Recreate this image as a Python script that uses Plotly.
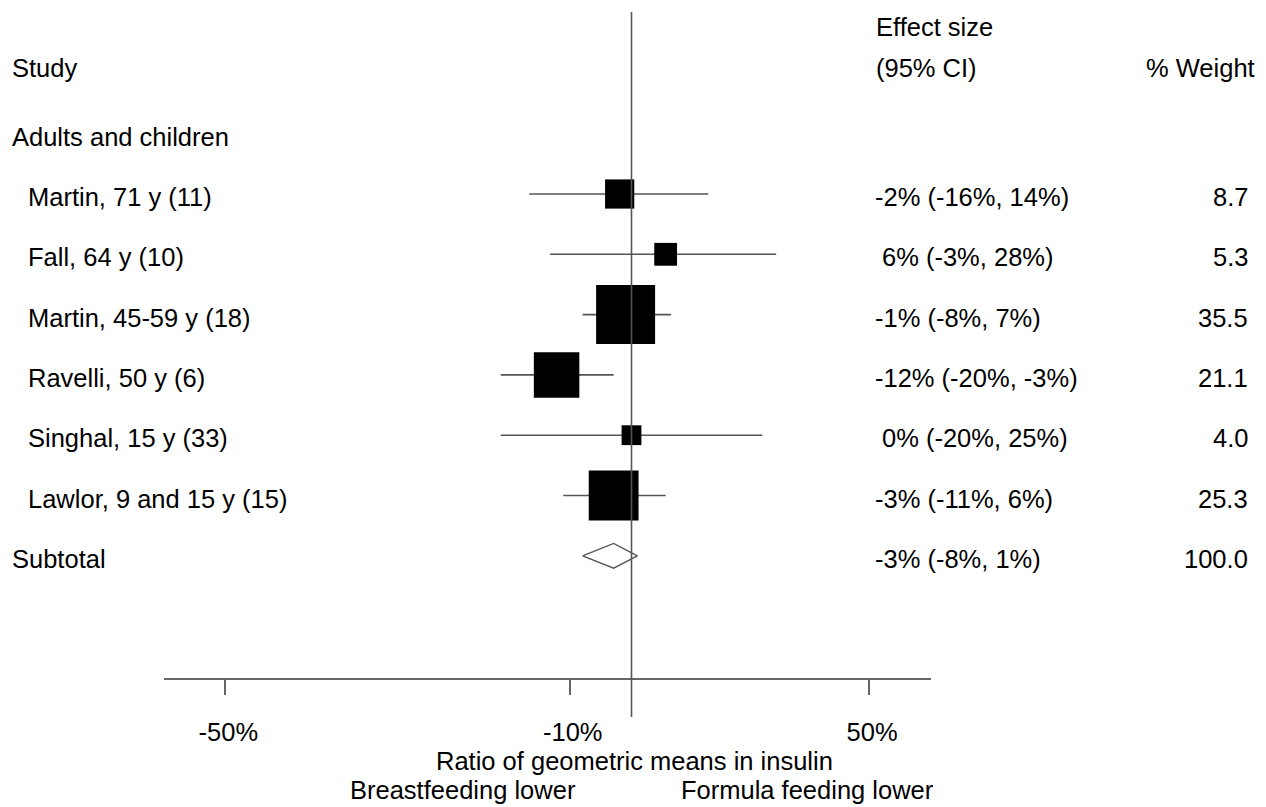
import numpy as np
import plotly.graph_objects as go

# ---------------- data ----------------
studies = ["Martin, 71 y (11)", "Fall, 64 y (10)", "Martin, 45-59 y (18)",
           "Ravelli, 50 y (6)", "Singhal, 15 y (33)", "Lawlor, 9 and 15 y (15)"]
est_pct = [-2, 6, -1, -12, 0, -3]
lo_pct = [-16, -13, -8, -20, -20, -11]
hi_pct = [14, 28, 7, -3, 25, 6]
weights = [8.7, 5.3, 35.5, 21.1, 4.0, 25.3]
effect_text = ["-2% (-16%, 14%)", "6% (-3%, 28%)", "-1% (-8%, 7%)",
               "-12% (-20%, -3%)", "0% (-20%, 25%)", "-3% (-11%, 6%)"]
weight_text = ["8.7", "5.3", "35.5", "21.1", "4.0", "25.3"]

subtotal_label = "Subtotal"
subtotal_est_pct = -3
subtotal_lo_pct = -8
subtotal_hi_pct = 1
subtotal_text = "-3% (-8%, 1%)"
subtotal_weight_text = "100.0"

tick_pct = [-50, -10, 50]
tick_labels = ["-50%", "-10%", "50%"]

# ---------------- layout constants ----------------
FONT = "Liberation Sans, Arial, Helvetica, sans-serif"
FS = 25.5
W, H = 1266, 807
L, R = 164, 931          # plot area horizontal pixels
T, B = 12, 678           # plot area vertical pixels
PX_PER_LN = 586.0
ZERO_PX = 631.5
ROW0_PX, ROW_STEP = 194.0, 60.3


def ratio(p):
    return 1 + np.asarray(p, dtype=float) / 100.0


def px_to_paper_x(px):
    return (px - L) / (R - L)


def px_to_paper_y(py):
    return (B - py) / (B - T)


x_lo_ln = (L - ZERO_PX) / PX_PER_LN
x_hi_ln = (R - ZERO_PX) / PX_PER_LN
x_range = [x_lo_ln / np.log(10), x_hi_ln / np.log(10)]
y_range = [(B - ROW0_PX) / ROW_STEP, (T - ROW0_PX) / ROW_STEP]

rows = list(range(len(studies)))
sub_row = len(studies)

fig = go.Figure()

# confidence interval lines
ci_x, ci_y = [], []
for r, lo, hi in zip(rows, ratio(lo_pct), ratio(hi_pct)):
    ci_x += [lo, hi, None]
    ci_y += [r, r, None]
fig.add_trace(go.Scatter(x=ci_x, y=ci_y, mode="lines",
                         line=dict(color="#555555", width=1.6),
                         hoverinfo="skip", showlegend=False))

# weighted squares
fig.add_trace(go.Scatter(x=ratio(est_pct), y=rows, mode="markers",
                         marker=dict(symbol="square", color="black", opacity=1,
                                     size=[9.9 * np.sqrt(w) for w in weights],
                                     line=dict(width=0)),
                         cliponaxis=False, showlegend=False))

# subtotal diamond
dh = 0.205
dx = list(ratio([subtotal_lo_pct, subtotal_est_pct, subtotal_hi_pct, subtotal_est_pct, subtotal_lo_pct]))
dy = [sub_row, sub_row - dh, sub_row, sub_row + dh, sub_row]
fig.add_trace(go.Scatter(x=dx, y=dy, mode="lines",
                         line=dict(color="#555555", width=1.4),
                         showlegend=False, hoverinfo="skip"))

# null line (ratio = 1)
fig.add_shape(type="line", xref="x", yref="paper", x0=1, x1=1,
              y0=px_to_paper_y(717), y1=1,
              line=dict(color="#555555", width=1.6))

ann = []


def add_text(text, xpx, row=None, ypx=None, anchor="left", xshift=0):
    d = dict(text=text, xref="paper", x=px_to_paper_x(xpx), xanchor=anchor,
             showarrow=False, yanchor="middle", xshift=xshift,
             font=dict(family=FONT, size=FS, color="black"))
    if row is not None:
        d.update(yref="y", y=row)
    else:
        d.update(yref="paper", y=px_to_paper_y(ypx))
    ann.append(d)


# headers
add_text("Study", 10, row=-2.09)
add_text("Effect size", 874, row=-2.77)
add_text("(95% CI)", 874, row=-2.09)
add_text("% Weight", 1257, row=-2.09, anchor="right")
add_text("Adults and children", 10, row=-0.95)

for r, s, e, wt in zip(rows, studies, effect_text, weight_text):
    add_text(s, 26, row=r + 0.05)
    add_text(e, 873, row=r + 0.05, xshift=0 if e.startswith("-") else 7)
    add_text(wt, 1250, row=r + 0.05, anchor="right")

add_text(subtotal_label, 10, row=sub_row + 0.05)
add_text(subtotal_text, 873, row=sub_row + 0.05)
add_text(subtotal_weight_text, 1250, row=sub_row + 0.05, anchor="right")

# axis titles
add_text("Ratio of geometric means in insulin", 634, ypx=761, anchor="center")
add_text("Breastfeeding lower", 463, ypx=790, anchor="center")
add_text("Formula feeding lower", 807, ypx=790, anchor="center")

fig.update_layout(
    width=W, height=H,
    margin=dict(l=L, r=W - R, t=T, b=H - B, pad=0),
    paper_bgcolor="white", plot_bgcolor="white",
    showlegend=False,
    annotations=ann,
    font=dict(family=FONT, size=FS, color="black"),
    xaxis=dict(type="log", range=x_range, showgrid=False, zeroline=False,
               showline=True, linecolor="#666666", linewidth=1.6,
               ticks="outside", ticklen=15, tickwidth=1.5, tickcolor="#666666",
               tickvals=list(ratio(tick_pct)), ticktext=tick_labels,
               tickfont=dict(family=FONT, size=FS, color="black"),
               ticklabelstandoff=16, ticklabelshift=3, fixedrange=True),
    yaxis=dict(visible=False, range=y_range, showgrid=False, zeroline=False,
               fixedrange=True),
)

fig.write_html("out.html")
